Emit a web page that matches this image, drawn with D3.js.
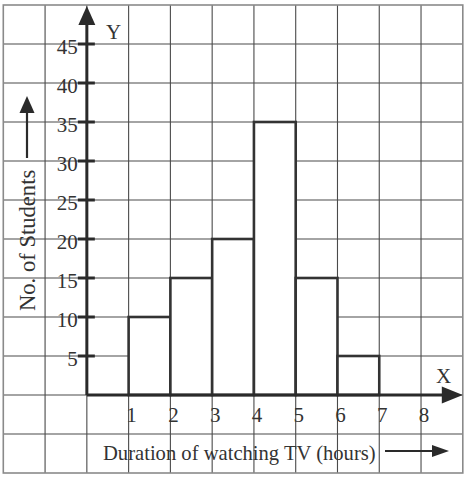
<!DOCTYPE html>
<html>
<head>
<meta charset="utf-8">
<script src="https://cdn.jsdelivr.net/npm/d3@7"></script>
<style>
  html, body { margin: 0; padding: 0; background: #fff; }
  svg { display: block; }
  text { font-family: "Liberation Serif", "Times New Roman", serif; fill: #333; }
</style>
</head>
<body>
<svg id="chart" width="470" height="479"></svg>
<script>
// ---- data ----
const binStarts = [1, 2, 3, 4, 5, 6];
const binEnds   = [2, 3, 4, 5, 6, 7];
const students  = [10, 15, 20, 35, 15, 5];
const yTicks    = [5, 10, 15, 20, 25, 30, 35, 40, 45];
const xTicks    = [1, 2, 3, 4, 5, 6, 7, 8];
const xTitle = "Duration of watching TV (hours)";
const yTitle = "No. of Students";

const svg = d3.select("#chart");

// graph-paper scales (grid extends beyond the axes)
const x = d3.scaleLinear().domain([-2, 9]).range([3.3, 462.8]);
const y = d3.scaleLinear().domain([-10, 50]).range([473, 5]);

// grid
const gridX = d3.range(-1, 9);          // interior vertical lines
const gridY = d3.range(-5, 50, 5);      // interior horizontal lines
const grid = svg.append("g").attr("stroke", "#4a4a4a").attr("stroke-width", 1.1);
grid.selectAll("line.v").data(gridX).join("line")
  .attr("x1", d => x(d)).attr("x2", d => x(d))
  .attr("y1", y(50)).attr("y2", y(-10));
grid.selectAll("line.h").data(gridY).join("line")
  .attr("y1", d => y(d)).attr("y2", d => y(d))
  .attr("x1", x(-2)).attr("x2", x(9));
// outer border
svg.append("rect")
  .attr("x", x(-2)).attr("y", y(50))
  .attr("width", x(9) - x(-2)).attr("height", y(-10) - y(50))
  .attr("fill", "none").attr("stroke", "#8a8a8a").attr("stroke-width", 1.6);

// bars (white filled, covering grid)
const bars = binStarts.map((s, i) => ({ s, e: binEnds[i], v: students[i] }));
svg.append("g").selectAll("rect").data(bars).join("rect")
  .attr("x", d => x(d.s)).attr("y", d => y(d.v))
  .attr("width", d => x(d.e) - x(d.s)).attr("height", d => y(0) - y(d.v))
  .attr("fill", "#fff").attr("stroke", "#333").attr("stroke-width", 2.6);

// axes
const axisColor = "#2a2a2a";
svg.append("line")
  .attr("x1", x(0)).attr("x2", x(9) - 18)
  .attr("y1", y(0)).attr("y2", y(0))
  .attr("stroke", axisColor).attr("stroke-width", 3);
svg.append("line")
  .attr("x1", x(0)).attr("x2", x(0))
  .attr("y1", y(0)).attr("y2", y(50) + 16)
  .attr("stroke", axisColor).attr("stroke-width", 3);
// arrow heads
const ax = x(0), ay = y(0);
svg.append("path")
  .attr("d", `M${ax},${y(50) + 1} L${ax - 8.5},${y(50) + 20} L${ax + 8.5},${y(50) + 20} Z`)
  .attr("fill", axisColor);
svg.append("path")
  .attr("d", `M${x(9)},${ay} L${x(9) - 21},${ay - 8.5} L${x(9) - 21},${ay + 8.5} Z`)
  .attr("fill", axisColor);

// y ticks
const yt = svg.append("g");
yt.selectAll("line").data(yTicks).join("line")
  .attr("x1", ax - 9).attr("x2", ax + 8)
  .attr("y1", d => y(d)).attr("y2", d => y(d))
  .attr("stroke", axisColor).attr("stroke-width", 3);
yt.selectAll("text").data(yTicks).join("text")
  .attr("x", ax - 9).attr("y", d => y(d) + 9.5)
  .attr("text-anchor", "end").attr("font-size", 21)
  .text(d => d);

// x tick labels
svg.append("g").selectAll("text").data(xTicks).join("text")
  .attr("x", d => x(d) + 3).attr("y", y(0) + 26.5)
  .attr("text-anchor", "middle").attr("font-size", 21)
  .text(d => d);

// axis letters
svg.append("text").attr("x", 106).attr("y", 38.5).attr("font-size", 21).text("Y");
svg.append("text").attr("x", 436).attr("y", 382.5).attr("font-size", 21).text("X");

// x title + arrow
svg.append("text").attr("x", 103).attr("y", 459.5).attr("font-size", 20.6).text(xTitle);
svg.append("line").attr("x1", 385).attr("x2", 434).attr("y1", 451).attr("y2", 451)
  .attr("stroke", axisColor).attr("stroke-width", 2.2);
svg.append("path").attr("d", "M449,451 L432,445 L432,457 Z").attr("fill", axisColor);

// y title + arrow
svg.append("text")
  .attr("transform", "translate(34.5,311) rotate(-90)")
  .attr("font-size", 22.6).text(yTitle);
svg.append("line").attr("x1", 27).attr("x2", 27).attr("y1", 158).attr("y2", 110)
  .attr("stroke", axisColor).attr("stroke-width", 2.2);
svg.append("path").attr("d", "M27,96 L19.5,113 L34.5,113 Z").attr("fill", axisColor);
</script>
</body>
</html>
